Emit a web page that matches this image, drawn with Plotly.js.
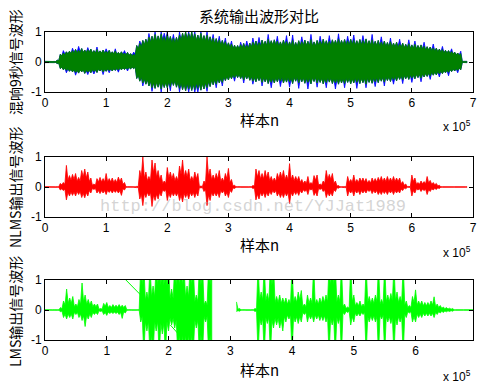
<!DOCTYPE html>
<html>
<head>
<meta charset="utf-8">
<script src="https://cdn.plot.ly/plotly-3.0.1.min.js"></script>
<style>html,body{margin:0;padding:0;background:#fff;}#chart{width:488px;height:392px;}</style>
</head>
<body>
<div id="chart"></div>
<script>
// sample spacing of the envelope readings (samples)
const sampleStep = 5000;

// Top panel: reverberant (blue) signal envelope, read every 5000 samples
const reverbHi = [0.02,0.02,0.02,0.02,0.06,0.26,0.38,0.34,0.36,0.46,
  0.42,0.52,0.45,0.40,0.48,0.43,0.38,0.50,0.37,0.40,
  0.44,0.39,0.34,0.44,0.32,0.34,0.38,0.32,0.28,0.33,
  0.55,0.70,0.72,0.76,0.95,0.86,1.00,0.87,1.00,0.96,
  1.00,0.85,0.92,0.82,1.00,0.96,1.00,1.00,1.00,1.00,
  0.90,1.00,0.88,1.00,0.84,0.92,0.78,0.86,0.72,0.80,
  0.64,0.70,0.56,0.55,0.66,0.62,0.70,0.63,0.80,0.70,
  0.82,0.73,0.69,0.92,0.71,0.74,0.86,0.67,0.73,0.88,
  0.67,0.90,0.65,0.71,0.84,0.73,0.69,0.92,0.67,0.72,
  0.86,0.76,0.71,0.88,0.74,0.72,0.94,0.72,0.75,0.86,
  0.76,0.90,0.71,0.75,0.88,0.77,0.71,0.92,0.69,0.72,
  0.84,0.70,0.65,0.80,0.63,0.66,0.76,0.63,0.59,0.74,
  0.57,0.70,0.55,0.57,0.66,0.51,0.50,0.60,0.46,0.43,
  0.52,0.39,0.38,0.44,0.33,0.30,0.36,0.02,0.02];
const reverbLo = [-0.02,-0.02,-0.02,-0.02,-0.05,-0.22,-0.26,-0.36,-0.31,-0.33,
  -0.44,-0.37,-0.33,-0.38,-0.42,-0.36,-0.40,-0.35,-0.30,-0.42,
  -0.31,-0.36,-0.30,-0.28,-0.34,-0.26,-0.25,-0.30,-0.23,-0.22,
  -0.55,-0.64,-0.80,-0.74,-0.80,-0.98,-0.88,-0.84,-1.00,-0.85,
  -0.86,-0.96,-0.78,-0.84,-1.00,-0.92,-0.96,-1.00,-0.95,-1.00,
  -1.00,-0.94,-0.90,-0.98,-0.82,-0.76,-0.86,-0.70,-0.80,-0.62,
  -0.60,-0.56,-0.64,-0.52,-0.55,-0.70,-0.56,-0.61,-0.74,-0.66,
  -0.62,-0.80,-0.66,-0.72,-0.86,-0.70,-0.66,-0.82,-0.70,-0.67,
  -0.84,-0.72,-0.64,-0.88,-0.66,-0.71,-0.90,-0.73,-0.65,-0.84,
  -0.68,-0.73,-0.86,-0.67,-0.72,-0.90,-0.74,-0.70,-0.86,-0.68,
  -0.73,-0.70,-0.88,-0.72,-0.69,-0.86,-0.68,-0.71,-0.82,-0.69,
  -0.64,-0.80,-0.62,-0.65,-0.74,-0.63,-0.58,-0.72,-0.56,-0.58,
  -0.68,-0.56,-0.52,-0.66,-0.50,-0.48,-0.58,-0.44,-0.43,-0.50,
  -0.39,-0.36,-0.46,-0.32,-0.30,-0.36,-0.26,-0.02,-0.02];

// Top panel: system output (dark green) envelope
const outHi = [0.02,0.02,0.02,0.02,0.06,0.26,0.30,0.34,0.36,0.38,
  0.42,0.39,0.45,0.40,0.41,0.43,0.38,0.42,0.37,0.40,
  0.36,0.39,0.34,0.37,0.32,0.34,0.30,0.32,0.28,0.26,
  0.55,0.62,0.72,0.76,0.83,0.86,0.92,0.87,0.94,0.84,
  0.92,0.85,0.80,0.82,0.90,0.96,1.00,0.95,1.00,0.94,
  0.90,0.96,0.88,0.90,0.84,0.80,0.78,0.74,0.72,0.68,
  0.64,0.60,0.56,0.55,0.58,0.62,0.57,0.63,0.66,0.70,
  0.65,0.73,0.69,0.76,0.71,0.74,0.70,0.67,0.73,0.69,
  0.67,0.73,0.65,0.71,0.68,0.73,0.69,0.75,0.67,0.72,
  0.70,0.76,0.71,0.69,0.74,0.72,0.77,0.72,0.75,0.71,
  0.76,0.73,0.71,0.75,0.72,0.77,0.71,0.74,0.69,0.72,
  0.67,0.70,0.65,0.68,0.63,0.66,0.61,0.63,0.59,0.61,
  0.57,0.59,0.55,0.57,0.53,0.51,0.50,0.47,0.46,0.43,
  0.42,0.39,0.38,0.35,0.33,0.30,0.28,0.02,0.02];
const outLo = [-0.02,-0.02,-0.02,-0.02,-0.05,-0.22,-0.26,-0.28,-0.31,-0.33,
  -0.35,-0.37,-0.33,-0.38,-0.34,-0.36,-0.32,-0.35,-0.30,-0.33,
  -0.31,-0.29,-0.30,-0.28,-0.27,-0.26,-0.25,-0.24,-0.23,-0.22,
  -0.55,-0.64,-0.70,-0.74,-0.80,-0.86,-0.88,-0.84,-0.90,-0.85,
  -0.86,-0.82,-0.78,-0.84,-0.88,-0.92,-0.96,-0.90,-0.95,-0.92,
  -0.88,-0.94,-0.90,-0.86,-0.82,-0.76,-0.74,-0.70,-0.68,-0.62,
  -0.60,-0.56,-0.53,-0.52,-0.55,-0.60,-0.56,-0.61,-0.64,-0.66,
  -0.62,-0.68,-0.66,-0.72,-0.68,-0.70,-0.66,-0.64,-0.70,-0.67,
  -0.66,-0.72,-0.64,-0.70,-0.66,-0.71,-0.68,-0.73,-0.65,-0.70,
  -0.68,-0.73,-0.69,-0.67,-0.72,-0.70,-0.74,-0.70,-0.72,-0.68,
  -0.73,-0.70,-0.68,-0.72,-0.69,-0.74,-0.68,-0.71,-0.66,-0.69,
  -0.64,-0.67,-0.62,-0.65,-0.60,-0.63,-0.58,-0.60,-0.56,-0.58,
  -0.54,-0.56,-0.52,-0.54,-0.50,-0.48,-0.47,-0.44,-0.43,-0.40,
  -0.39,-0.36,-0.35,-0.32,-0.30,-0.28,-0.26,-0.02,-0.02];

// Middle panel: NLMS output envelope
const nlmsHi = [0.01,0.01,0.01,0.01,0.01,0.12,0.15,0.72,0.38,0.42,
  0.45,0.32,0.55,0.60,0.50,0.30,0.10,0.28,0.32,0.28,
  0.45,0.28,0.30,0.25,0.33,0.30,0.15,0.01,0.01,0.01,
  0.02,0.55,1.00,0.50,0.35,0.90,0.80,0.55,0.40,0.20,
  0.65,0.50,0.45,0.35,0.70,0.90,0.55,0.60,0.35,0.50,
  0.45,0.03,0.20,1.00,0.60,0.40,0.45,0.55,0.30,0.45,
  0.62,0.25,0.06,0.01,0.01,0.01,0.01,0.01,0.05,0.60,
  0.55,0.45,0.55,0.50,0.35,0.30,0.45,0.50,0.55,0.40,
  0.78,0.40,0.35,0.35,0.25,0.20,0.35,0.15,0.38,0.40,
  0.10,0.20,0.55,0.42,0.45,0.20,0.05,0.01,0.02,0.35,
  0.25,0.40,0.25,0.30,0.30,0.28,0.22,0.30,0.28,0.32,
  0.35,0.30,0.35,0.30,0.35,0.30,0.30,0.18,0.10,0.02,
  0.40,0.30,0.15,0.20,0.18,0.35,0.22,0.15,0.12,0.06,
  0.01,0.01,0.01,0.01,0.01,0.01,0.01,0.01,0.01];
const nlmsLo = [-0.01,-0.01,-0.01,-0.01,-0.01,-0.10,-0.12,-0.43,-0.30,-0.28,
  -0.30,-0.25,-0.35,-0.36,-0.30,-0.20,-0.08,-0.20,-0.22,-0.20,
  -0.25,-0.18,-0.20,-0.18,-0.20,-0.28,-0.10,-0.01,-0.01,-0.01,
  -0.02,-0.40,-0.62,-0.35,-0.30,-0.65,-0.45,-0.40,-0.30,-0.15,
  -0.45,-0.35,-0.30,-0.30,-0.45,-0.50,-0.35,-0.40,-0.30,-0.35,
  -0.30,-0.03,-0.15,-0.62,-0.45,-0.30,-0.30,-0.35,-0.20,-0.30,
  -0.35,-0.18,-0.05,-0.01,-0.01,-0.01,-0.01,-0.01,-0.05,-0.43,
  -0.40,-0.30,-0.35,-0.30,-0.25,-0.20,-0.30,-0.35,-0.35,-0.30,
  -0.55,-0.30,-0.25,-0.28,-0.20,-0.15,-0.25,-0.10,-0.28,-0.30,
  -0.08,-0.15,-0.35,-0.30,-0.30,-0.15,-0.04,-0.01,-0.02,-0.30,
  -0.20,-0.30,-0.20,-0.25,-0.20,-0.20,-0.15,-0.22,-0.20,-0.25,
  -0.25,-0.22,-0.25,-0.20,-0.25,-0.20,-0.20,-0.12,-0.06,-0.02,
  -0.30,-0.20,-0.10,-0.15,-0.12,-0.25,-0.15,-0.10,-0.08,-0.05,
  -0.01,-0.01,-0.01,-0.01,-0.01,-0.01,-0.01,-0.01,-0.01];

// Bottom panel: LMS output envelope (null = off-scale, no trace visible)
const lmsHi = [0.01,0.01,0.01,0.01,0.01,0.08,0.30,0.70,0.40,0.45,
  0.20,0.35,0.90,0.50,0.35,0.30,0.20,0.20,0.05,0.22,
  0.25,0.15,0.18,0.16,0.18,0.16,0.15,0.01,0.01,0.01,
  0.01,1.5,1.5,0.6,1.5,0.8,1.5,1.5,1.5,1.5,
  1.5,0.7,1.5,1.5,1.5,1.5,0.8,1.5,1.5,0.5,
  1.5,1.5,0.3,1.5,1.5,null,null,null,null,null,
  null,null,0.27,0.05,0.01,0.01,0.01,0.01,0.05,1.5,
  0.6,1.5,0.55,1.5,1.5,0.45,0.5,0.4,0.4,0.35,
  1.5,0.45,0.6,0.65,0.2,0.5,0.4,1.5,0.35,0.4,
  0.45,0.5,1.5,1.5,1.5,0.5,1.5,0.2,0.1,1.5,
  0.5,0.25,0.3,0.2,1.5,0.45,0.4,0.5,1.5,0.35,
  1.5,0.5,0.55,1.5,0.6,0.45,1.5,0.3,0.15,0.45,
  0.67,0.3,0.3,0.25,0.25,0.3,0.44,0.2,0.15,0.1,
  0.08,0.06,0.05,0.01,0.01,0.01,0.01,0.01,0.01,0.01];
const lmsLo = [-0.01,-0.01,-0.01,-0.01,-0.01,-0.06,-0.25,-0.30,-0.25,-0.30,
  -0.15,-0.25,-0.35,-0.55,-0.30,-0.25,-0.15,-0.15,-0.05,-0.15,
  -0.18,-0.12,-0.12,-0.12,-0.15,-0.28,-0.10,-0.01,-0.01,-0.01,
  -0.01,-0.4,-1.5,-0.7,-1.5,-1.5,-0.7,-1.5,-0.8,-1.5,
  -0.7,-0.5,-0.6,-1.5,-1.5,-1.5,-1.5,-1.5,-1.5,-0.6,
  -1.5,-1.5,-0.4,-1.5,-1.5,null,null,null,null,null,
  null,null,-0.05,-0.04,-0.01,-0.01,-0.01,-0.01,-0.05,-1.5,
  -0.5,-1.5,-0.45,-1.5,-0.6,-0.5,-0.6,-0.7,-0.4,-0.3,
  -1.5,-0.4,-0.45,-0.4,-0.15,-0.4,-0.3,-0.4,-0.3,-0.35,
  -0.35,-0.4,-1.5,-0.5,-1.5,-0.45,-1.5,-0.15,-0.08,-0.5,
  -0.4,-0.2,-0.2,-0.15,-1.5,-0.4,-0.35,-0.4,-1.5,-0.3,
  -1.5,-0.4,-0.45,-1.5,-0.5,-0.4,-1.5,-0.25,-0.1,-0.4,
  -0.4,-0.25,-0.25,-0.2,-0.2,-0.2,-0.25,-0.15,-0.1,-0.08,
  -0.06,-0.05,-0.04,-0.01,-0.01,-0.01,-0.01,-0.01,-0.01,-0.01];
// stray connecting strokes visible in the LMS panel
const lmsStrayX = [131000, 155000, null, 203000, 222000];
const lmsStrayY = [1.0, 0.5, null, -0.5, -0.94];

const xTickVals = [0,100000,200000,300000,400000,500000,600000,700000];
const xTickText = ['0','1','2','3','4','5','6','7'];
const yTickVals = [-1,0,1];
const yTickText = ['-1','0','1'];

// Closed band between the upper and lower envelope readings. Between two
// readings the oscillating waveform dips back toward zero, drawn as a narrow
// notch (style factor `notch`) so the edge keeps a spiky look.
function band(hi, lo, notch) {
  const xs = [], ys = [];
  let seg = [];
  const flush = () => {
    if (!seg.length) return;
    seg.forEach((i, k) => {
      xs.push(i * sampleStep); ys.push(hi[i]);
      if (k < seg.length - 1) {
        xs.push(i * sampleStep + sampleStep / 2);
        ys.push(notch * Math.min(hi[i], hi[seg[k + 1]]));
      }
    });
    const rev = seg.slice().reverse();
    rev.forEach((i, k) => {
      xs.push(i * sampleStep); ys.push(lo[i]);
      if (k < rev.length - 1) {
        xs.push(i * sampleStep - sampleStep / 2);
        ys.push(notch * Math.max(lo[i], lo[rev[k + 1]]));
      }
    });
    xs.push(null); ys.push(null);
    seg = [];
  };
  for (let i = 0; i < hi.length; i++) {
    if (hi[i] === null) flush(); else seg.push(i);
  }
  flush();
  return {x: xs, y: ys};
}

function wave(hi, lo, color, xa, ya, notch) {
  const b = band(hi, lo, notch);
  return {x: b.x, y: b.y, type: 'scatter', mode: 'lines', xaxis: xa, yaxis: ya,
    fill: 'toself', fillcolor: color,
    line: {color: color, width: 0.8}, hoverinfo: 'skip', showlegend: false};
}

const traces = [
  wave(reverbHi, reverbLo, '#0000ff', 'x', 'y', 0.78),
  wave(outHi, outLo, '#008000', 'x', 'y', 0.8),
  wave(nlmsHi, nlmsLo, '#ff0000', 'x2', 'y2', 0.6),
  wave(lmsHi, lmsLo, '#00ff00', 'x3', 'y3', 0.55),
  {x: lmsStrayX, y: lmsStrayY, type: 'scatter', mode: 'lines', xaxis: 'x3', yaxis: 'y3',
   line: {color: '#00ff00', width: 1}, connectgaps: false, hoverinfo: 'skip', showlegend: false}
];

const W = 488, H = 392;
const px = v => v / W;
const py = v => 1 - v / H;
const tickFont = {family: 'Liberation Sans, Arial, sans-serif', size: 12, color: '#000'};
const cjk = 'Noto Sans CJK SC, sans-serif';

function xAxis(anchor, maxX) {
  return {domain: [px(45), px(473)], anchor: anchor, range: [0, maxX],
    tickmode: 'array', tickvals: xTickVals, ticktext: xTickText,
    showline: true, linecolor: '#000', linewidth: 1, mirror: 'ticks',
    ticks: 'inside', ticklen: 4, tickwidth: 1, tickcolor: '#000',
    showgrid: false, zeroline: false, tickfont: tickFont};
}
function yAxis(anchor, top, bottom) {
  return {domain: [py(bottom), py(top)], anchor: anchor, range: [-1, 1],
    tickmode: 'array', tickvals: yTickVals, ticktext: yTickText,
    showline: true, linecolor: '#000', linewidth: 1, mirror: 'ticks',
    ticks: 'inside', ticklen: 4, tickwidth: 1, tickcolor: '#000',
    showgrid: false, zeroline: false, tickfont: tickFont};
}

function label(text, x, y, angle, size, extra) {
  return Object.assign({text: text, xref: 'paper', yref: 'paper', x: px(x), y: py(y),
    xanchor: 'center', yanchor: 'middle', showarrow: false, textangle: angle,
    font: {family: cjk, size: size, color: '#000'}}, extra || {});
}
const sciFont = {family: 'Liberation Sans, Arial, sans-serif', size: 12, color: '#000'};

const layout = {
  width: W, height: H,
  margin: {l: 0, r: 0, t: 0, b: 0},
  paper_bgcolor: '#fff', plot_bgcolor: '#fff',
  title: {text: '系统输出波形对比', x: px(259), y: py(17), xanchor: 'center', yanchor: 'middle',
    font: {family: cjk, size: 15, color: '#000'}},
  xaxis: xAxis('y', 700000),
  yaxis: yAxis('x', 32, 92),
  xaxis2: xAxis('y2', 700000),
  yaxis2: yAxis('x2', 157, 217),
  xaxis3: xAxis('y3', 693000),
  yaxis3: yAxis('x3', 280, 340),
  annotations: [
    label('混响9秒信号波形', 15, 62, -90, 14),
    label('NLMS输出信号波形', 15, 188, -90, 14),
    label('LMS输出信号波形', 15, 312, -90, 14),
    label('样本n', 259, 119, 0, 15),
    label('样本n', 259, 244, 0, 15),
    label('样本n', 259, 369, 0, 15),
    label('x 10<sup>5</sup>', 473, 126, 0, 12, {xanchor: 'right', font: sciFont}),
    label('x 10<sup>5</sup>', 473, 252, 0, 12, {xanchor: 'right', font: sciFont}),
    label('x 10<sup>5</sup>', 473, 376, 0, 12, {xanchor: 'right', font: sciFont}),
    label('http://blog.csdn.net/YJJat1989', 253, 207, 0, 17, {font: {family: 'Liberation Mono, monospace', size: 17, color: 'rgba(170,170,170,0.5)'}})
  ]
};

Plotly.newPlot('chart', traces, layout, {staticPlot: true, displayModeBar: false});
</script>
</body>
</html>
